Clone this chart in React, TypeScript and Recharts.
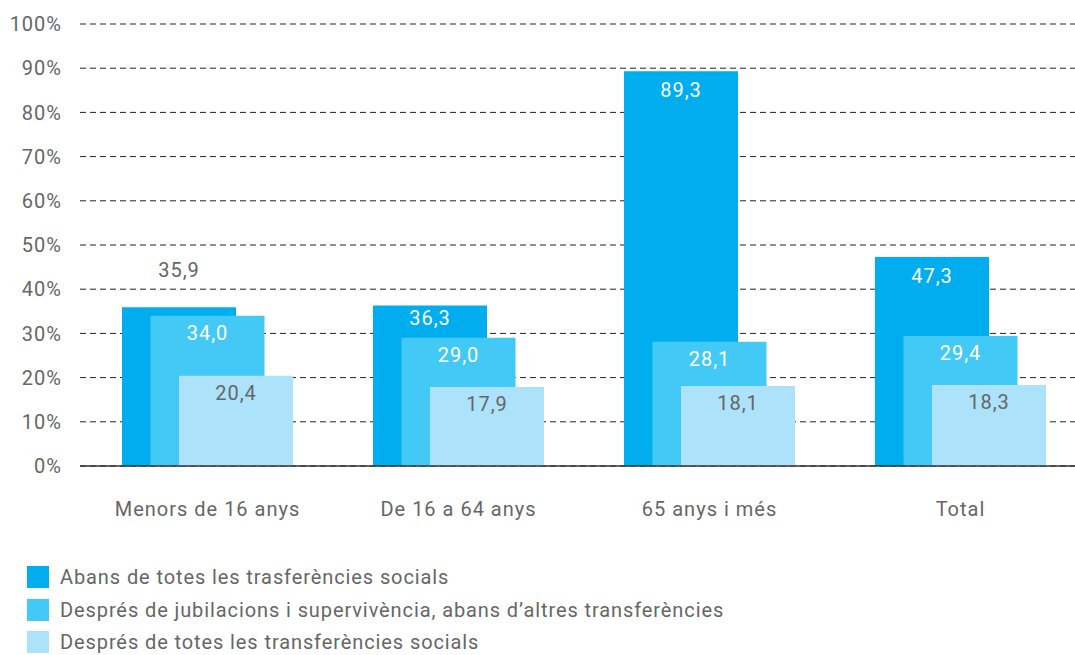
import React from 'react';
import { BarChart, Bar, XAxis, YAxis, CartesianGrid, LabelList } from 'recharts';

const categories = ['Menors de 16 anys', 'De 16 a 64 anys', '65 anys i més', 'Total'];
const beforeAll = [35.9, 36.3, 89.3, 47.3];
const afterPensions = [34.0, 29.0, 28.1, 29.4];
const afterAll = [20.4, 17.9, 18.1, 18.3];
const yTicks = [0, 10, 20, 30, 40, 50, 60, 70, 80, 90, 100];

const seriesNames = [
  'Abans de totes les trasferències socials',
  'Després de jubilacions i supervivència, abans d’altres transferències',
  'Després de totes les transferències socials',
];
const colors = ['#00aeef', '#43c9f6', '#ade2fb'];

const data = categories.map((name, i) => ({
  name,
  a: beforeAll[i],
  b: afterPensions[i],
  c: afterAll[i],
}));

const FONT = 'Roboto, "Noto Sans", sans-serif';
const textStyle = { letterSpacing: 1 };
const fmt = (v: number) => v.toFixed(1).replace('.', ',');

// dark bar label: sits above if the next bar hides it, else inside near the top
const darkLabel = (props: any) => {
  const { x, y, width, value, index } = props;
  const pxPerUnit = 4.42;
  const visible = (value - afterPensions[index]) * pxPerUnit;
  const above = visible < 15;
  const cy = above ? y - 37 : y + Math.min(19, visible / 2 - 4);
  return (
    <text x={x + width / 2} y={cy} textAnchor="middle" dominantBaseline="central"
      fill={above ? '#666' : '#fff'} fontSize={20} fontFamily={FONT} style={textStyle}>
      {fmt(value)}
    </text>
  );
};

const innerLabel = (color: string) => (props: any) => {
  const { x, y, width, value } = props;
  return (
    <text x={x + width / 2} y={y + 17} textAnchor="middle" dominantBaseline="central"
      fill={color} fontSize={20} fontFamily={FONT} style={textStyle}>
      {fmt(value)}
    </text>
  );
};

export default function App() {
  return (
    <div style={{ position: 'absolute', left: 0, top: 0, width: 1075, height: 655, overflow: 'hidden', background: '#fff', fontFamily: FONT }}>
      <BarChart width={1090} height={655} data={data}
        margin={{ top: 24, right: 4, left: 0, bottom: 129 }}
        barSize={114} barGap={-85.5}>
        <CartesianGrid vertical={false} stroke="#222" strokeDasharray="6 4" />
        <XAxis dataKey="name" height={60} padding={{ left: 2, right: 0 }}
          axisLine={{ stroke: '#333', strokeWidth: 1.5 }} tickLine={false}
          tick={{ fill: '#666', fontSize: 20, fontFamily: FONT, style: textStyle }} tickMargin={30} />
        <YAxis width={80} domain={[0, 100]} ticks={yTicks} axisLine={false} tickLine={false}
          tickSize={0} tickMargin={18} tickFormatter={(v: number) => `${v}%`}
          tick={{ fill: '#666', fontSize: 20, fontFamily: FONT, style: textStyle }} />
        <Bar dataKey="a" fill={colors[0]} isAnimationActive={false}>
          <LabelList dataKey="a" content={darkLabel} />
        </Bar>
        <Bar dataKey="b" fill={colors[1]} isAnimationActive={false}>
          <LabelList dataKey="b" content={innerLabel('#fff')} />
        </Bar>
        <Bar dataKey="c" fill={colors[2]} isAnimationActive={false}>
          <LabelList dataKey="c" content={innerLabel('#666')} />
        </Bar>
      </BarChart>
      <div style={{ position: 'absolute', left: 27, top: 561 }}>
        {seriesNames.map((s, i) => (
          <div key={s} style={{ display: 'flex', alignItems: 'center', height: 32.5 }}>
            <span style={{ width: 22, height: 22, background: colors[i], marginRight: 11, display: 'inline-block' }} />
            <span style={{ color: '#666', fontSize: 20, letterSpacing: 0.9 }}>{s}</span>
          </div>
        ))}
      </div>
    </div>
  );
}
